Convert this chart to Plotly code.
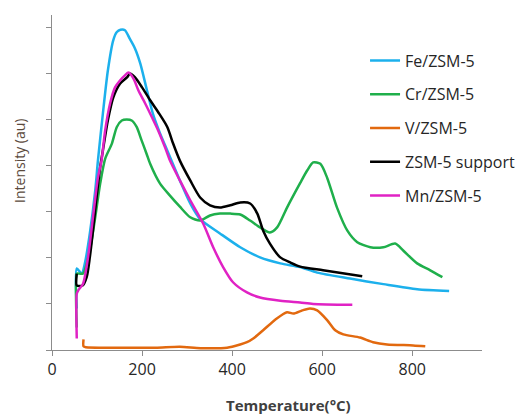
import plotly.graph_objects as go

# ---- data ----
fe_T = [55, 55, 66, 73, 84, 96, 102, 113, 124, 136, 144, 152, 162, 173, 184, 196, 211, 224, 240, 256,
        284, 307, 329, 373, 418, 462, 507, 551, 589, 662, 736, 811, 882]
fe_y = [0.9, 1.77, 1.66, 1.88, 2.53, 3.46, 4.11, 5.13, 6.06, 6.72, 6.90, 6.95, 6.94, 6.75, 6.55, 6.22, 5.63,
        5.13, 4.70, 4.33, 3.68, 3.18, 2.84, 2.53, 2.23, 2.01, 1.88, 1.80, 1.68, 1.55, 1.43, 1.32, 1.28]

cr_T = [55, 55, 58, 69, 84, 96, 107, 118, 133, 144, 155, 166, 177, 188, 199, 210, 218, 240, 262, 284,
        307, 329, 351, 373, 396, 418, 440, 462, 484, 500, 522, 551, 567, 580, 596, 611, 633, 656, 678,
        707, 736, 762, 780, 811, 840, 867]
cr_y = [0.49, 1.66, 1.66, 1.66, 2.16, 2.88, 3.61, 4.15, 4.48, 4.84, 4.98, 5.00, 4.98, 4.84, 4.55, 4.26,
        4.04, 3.61, 3.35, 3.11, 2.88, 2.81, 2.92, 2.96, 2.96, 2.94, 2.81, 2.66, 2.55, 2.66, 3.09, 3.62,
        3.90, 4.07, 4.04, 3.74, 3.09, 2.59, 2.34, 2.23, 2.23, 2.31, 2.16, 1.88, 1.73, 1.58]

v_T = [70, 70, 75, 150, 230, 284, 330, 389, 418, 433, 447, 469, 500, 522, 536, 556, 573, 589, 611,
       629, 647, 684, 713, 744, 802, 829]
v_y = [0.23, 0.08, 0.06, 0.05, 0.05, 0.07, 0.04, 0.05, 0.12, 0.17, 0.25, 0.43, 0.69, 0.82, 0.79, 0.86,
       0.90, 0.86, 0.65, 0.43, 0.34, 0.27, 0.17, 0.12, 0.10, 0.08]

zsm_T = [55, 55, 68, 77, 84, 91, 99, 107, 113, 124, 136, 151, 167, 173, 184, 200, 218, 236, 256, 269,
         284, 307, 329, 351, 373, 396, 418, 440, 456, 469, 484, 507, 529, 551, 602, 689]
zsm_y = [1.66, 1.40, 1.40, 1.58, 2.01, 2.59, 3.31, 3.97, 4.33, 4.98, 5.48, 5.78, 5.92, 6.00, 5.92, 5.70,
         5.42, 5.16, 4.84, 4.48, 4.11, 3.68, 3.31, 3.14, 3.09, 3.14, 3.20, 3.18, 2.96, 2.59, 2.31, 2.01,
         1.90, 1.81, 1.73, 1.60]

mn_T = [55, 55, 58, 69, 80, 91, 102, 110, 118, 129, 140, 151, 162, 170, 181, 192, 207, 222, 236, 251,
        262, 284, 307, 336, 358, 380, 402, 433, 462, 507, 551, 580, 667]
mn_y = [0.25, 1.22, 1.29, 1.44, 2.01, 2.88, 3.74, 4.11, 4.76, 5.35, 5.70, 5.85, 5.96, 6.02, 5.89, 5.63,
        5.35, 5.05, 4.76, 4.40, 4.11, 3.68, 3.25, 2.74, 2.23, 1.80, 1.47, 1.25, 1.14, 1.07, 1.03, 1.00, 0.98]

names = ["Fe/ZSM-5", "Cr/ZSM-5", "V/ZSM-5", "ZSM-5 support", "Mn/ZSM-5"]
colors = ["#1cb0ec", "#1faf4b", "#e2690f", "#000000", "#e022c4"]
series = [(fe_T, fe_y), (cr_T, cr_y), (v_T, v_y), (zsm_T, zsm_y), (mn_T, mn_y)]

x_ticks = [0, 200, 400, 600, 800]
y_ticks = [0, 1, 2, 3, 4, 5, 6, 7]

fig = go.Figure()
for name, col, (t, y) in zip(names, colors, series):
    fig.add_trace(go.Scatter(
        x=t, y=y, mode="lines", name=name, legendgroup=name,
        line=dict(color=col, width=2.5, shape="spline", smoothing=0.7),
    ))

# the page body adds an 8px offset, so the figure is 8px smaller and shifted
fig.update_layout(
    width=524, height=408,
    margin=dict(l=44, r=50, t=7, b=66),
    paper_bgcolor="white", plot_bgcolor="white",
    font=dict(family="Open Sans", color="#262626"),
    showlegend=True,
    legend=dict(
        x=0.728, y=0.915, xanchor="left", yanchor="top",
        font=dict(size=16, color="#262626"),
        tracegroupgap=10, bgcolor="rgba(0,0,0,0)",
    ),
    xaxis=dict(
        range=[0, 955], tickvals=x_ticks, ticktext=[str(v) for v in x_ticks],
        showgrid=False, zeroline=False, showline=True, linecolor="#8c8c8c", linewidth=1.3,
        ticks="outside", ticklen=5, tickcolor="#8c8c8c", tickwidth=1.3,
        tickfont=dict(size=16, color="#262626"),
    ),
    yaxis=dict(
        range=[0, 7.27], tickvals=y_ticks, showticklabels=False,
        showgrid=False, zeroline=False, showline=True, linecolor="#8c8c8c", linewidth=1.3,
        ticks="outside", ticklen=5, tickcolor="#8c8c8c", tickwidth=1.3,
    ),
    annotations=[
        dict(text="<b>Temperature(°C)</b>", xref="paper", yref="paper", x=0.551, y=-0.163,
             xanchor="center", yanchor="middle", showarrow=False,
             font=dict(size=15, color="#404040")),
        dict(text="Intensity (au)", xref="paper", yref="paper", x=-0.077, y=0.564,
             xanchor="center", yanchor="middle", showarrow=False, textangle=-90,
             font=dict(size=14, color="#5b4a3c")),
    ],
)

fig.write_html("out.html")
